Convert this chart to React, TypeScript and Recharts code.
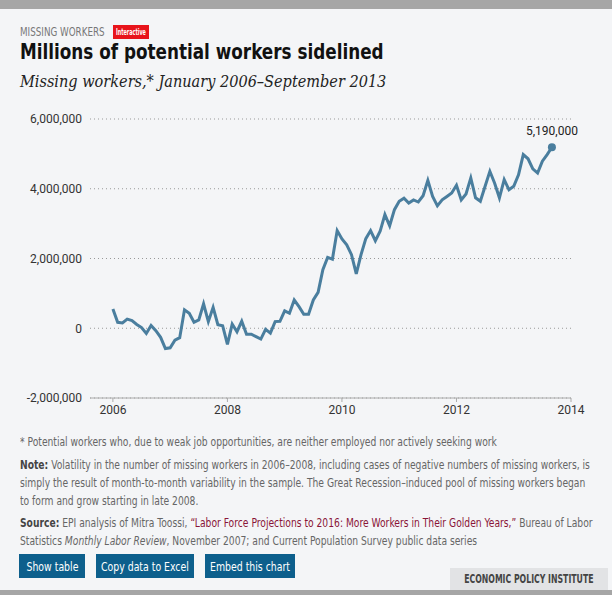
import { LineChart, Line, XAxis, YAxis, CartesianGrid, ReferenceDot } from 'recharts';

// monthly, Jan 2006 - Sep 2013, millions
const years = [2006, 2007, 2008, 2009, 2010, 2011, 2012, 2013];
const missing = [
  0.55, 0.17, 0.15, 0.26, 0.22, 0.11, 0.02, -0.15, 0.08, -0.07, -0.26, -0.58,
  -0.56, -0.34, -0.27, 0.53, 0.43, 0.17, 0.24, 0.7, 0.19, 0.6, 0.1, 0.07,
  -0.46, 0.12, -0.1, 0.2, -0.17, -0.17, -0.24, -0.31, -0.03, -0.14, 0.19, 0.2,
  0.5, 0.43, 0.81, 0.62, 0.4, 0.4, 0.81, 1.03, 1.68, 2.03, 1.98, 2.8,
  2.56, 2.39, 2.11, 1.56, 2.11, 2.57, 2.8, 2.51, 2.78, 3.26, 2.94, 3.4,
  3.64, 3.73, 3.59, 3.68, 3.62, 3.8, 4.24, 3.78, 3.51, 3.68, 3.78, 3.88,
  4.1, 3.68, 3.85, 4.31, 3.74, 3.64, 4.07, 4.5, 4.16, 3.74, 4.26, 3.97,
  4.07, 4.4, 4.98, 4.86, 4.57, 4.45, 4.79, 4.98, 5.19,
];
const yTicks = [-2000000, 0, 2000000, 4000000, 6000000];
const xTicks = [2006, 2008, 2010, 2012, 2014];
const lastLabel = '5,190,000';

const data = missing.map((v, i) => ({
  t: years[Math.floor(i / 12)] + (i % 12) / 12,
  value: Math.round(v * 1000000),
}));
const last = data[data.length - 1];

const narrow = "'DejaVu Sans Condensed', 'DejaVu Sans', sans-serif";
const tickFont = "Roboto, 'DejaVu Sans Condensed', sans-serif";
const blue = '#4a7e9e';

// squeezes a run of text horizontally (the original uses a narrower face)
function Sq({ s, origin = 'left', children }: { s: number; origin?: string; children: React.ReactNode }) {
  return (
    <span
      style={{
        display: 'inline-block',
        flexShrink: 0,
        transform: `scaleX(${s})`,
        transformOrigin: origin,
        whiteSpace: 'nowrap',
      }}
    >
      {children}
    </span>
  );
}

const box: React.CSSProperties = {
  position: 'absolute',
  display: 'flex',
  alignItems: 'center',
  justifyContent: 'center',
  whiteSpace: 'nowrap',
};

const btn: React.CSSProperties = {
  ...box,
  top: 554,
  height: 24,
  background: '#0d5f8c',
  color: '#fff',
  fontSize: 13,
};

const foot: React.CSSProperties = {
  position: 'absolute',
  left: 20,
  fontSize: 12,
  color: '#666',
  lineHeight: '18px',
  whiteSpace: 'nowrap',
};

export default function App() {
  return (
    <div
      style={{
        position: 'absolute',
        left: 0,
        top: 0,
        width: 612,
        height: 595,
        background: '#f4f5f7',
        fontFamily: narrow,
        overflow: 'hidden',
      }}
    >
      <div style={{ position: 'absolute', left: 0, top: 0, width: 612, height: 9, background: '#a6a6a6' }} />
      <div style={{ position: 'absolute', left: 20, top: 24, fontSize: 13, color: '#777' }}>
        <Sq s={0.75}>MISSING WORKERS</Sq>
      </div>
      <div
        style={{
          ...box, left: 113, top: 25, width: 36, height: 14, background: '#e8141b',
          color: '#fff', fontSize: 9, fontWeight: 'bold',
        }}
      >
        <Sq s={0.6} origin="center">Interactive</Sq>
      </div>
      <div style={{ position: 'absolute', left: 20, top: 39, fontSize: 22, fontWeight: 'bold', color: '#111' }}>
        <Sq s={0.85}>Millions of potential workers sidelined</Sq>
      </div>
      <div
        style={{
          position: 'absolute', left: 20, top: 72, fontSize: 16, fontStyle: 'italic',
          fontFamily: "'DejaVu Serif', serif", color: '#222',
        }}
      >
        <Sq s={0.906}>Missing workers,* January 2006–September 2013</Sq>
      </div>

      <div style={{ position: 'absolute', left: 0, top: 100 }}>
        <LineChart width={612} height={330} data={data} margin={{ top: 19, right: 41, bottom: 2, left: 10 }}>
          <CartesianGrid horizontal vertical={false} stroke="#999" strokeDasharray="1 3" />
          <XAxis
            dataKey="t"
            type="number"
            domain={[2005.6, 2014]}
            ticks={xTicks}
            height={30}
            tickSize={4}
            tickMargin={3}
            axisLine={{ stroke: '#aaa' }}
            tickLine={{ stroke: '#aaa' }}
            tick={{ fontSize: 12, fill: '#333', fontFamily: tickFont }}
          />
          <YAxis
            type="number"
            domain={[-2000000, 6000000]}
            ticks={yTicks}
            width={80}
            axisLine={false}
            tickLine={false}
            tickSize={0}
            tickMargin={8}
            tickFormatter={(v: number) => v.toLocaleString('en-US')}
            tick={{ fontSize: 12, fill: '#333', fontFamily: tickFont }}
          />
          <Line
            type="linear"
            dataKey="value"
            stroke={blue}
            strokeWidth={3}
            dot={false}
            isAnimationActive={false}
          />
          <ReferenceDot
            x={last.t}
            y={last.value}
            r={4}
            fill={blue}
            stroke="none"
            label={{ value: lastLabel, position: 'top', offset: 8, fontSize: 12, fill: '#222', fontFamily: tickFont }}
          />
        </LineChart>
      </div>

      <div style={{ ...foot, top: 433 }}>
        <Sq s={0.85}>* Potential workers who, due to weak job opportunities, are neither employed nor actively seeking work</Sq>
      </div>
      <div style={{ ...foot, top: 456 }}>
        <Sq s={0.85}>
          <b style={{ color: '#444' }}>Note:</b> Volatility in the number of missing workers in 2006–2008, including cases of negative numbers of missing workers, is
        </Sq>
        <br />
        <Sq s={0.85}>
          simply the result of month-to-month variability in the sample. The Great Recession–induced pool of missing workers began
        </Sq>
        <br />
        <Sq s={0.85}>to form and grow starting in late 2008.</Sq>
      </div>
      <div style={{ ...foot, top: 514 }}>
        <Sq s={0.85}>
          <b style={{ color: '#444' }}>Source:</b> EPI analysis of Mitra Toossi,{' '}
          <span style={{ color: '#8a1538' }}>“Labor Force Projections to 2016: More Workers in Their Golden Years,”</span> Bureau of Labor
        </Sq>
        <br />
        <Sq s={0.85}>
          Statistics <i>Monthly Labor Review</i>, November 2007; and Current Population Survey public data series
        </Sq>
      </div>

      <div style={{ ...btn, left: 19, width: 66 }}><Sq s={0.8} origin="center">Show table</Sq></div>
      <div style={{ ...btn, left: 96, width: 98 }}><Sq s={0.8} origin="center">Copy data to Excel</Sq></div>
      <div style={{ ...btn, left: 205, width: 90 }}><Sq s={0.8} origin="center">Embed this chart</Sq></div>

      <div
        style={{
          ...box, left: 450, top: 568, width: 158, height: 22, background: '#e2e3e5',
          color: '#444', fontSize: 12, fontWeight: 'bold',
        }}
      >
        <Sq s={0.72} origin="center">ECONOMIC POLICY INSTITUTE</Sq>
      </div>
      <div style={{ position: 'absolute', left: 0, top: 590, width: 612, height: 5, background: '#a6a6a6' }} />
    </div>
  );
}
